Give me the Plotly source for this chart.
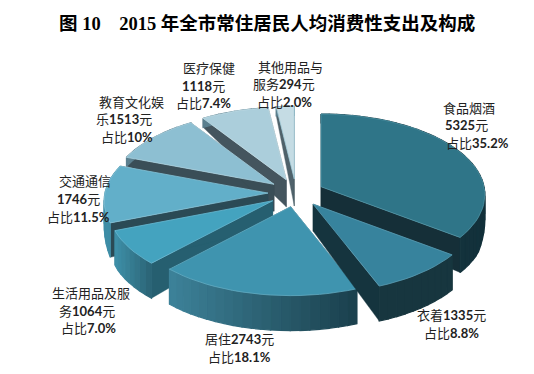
import math
import plotly.graph_objects as go

TITLE = "图 10　2015 年全市常住居民人均消费性支出及构成"
categories = ["食品烟酒", "衣着", "居住", "生活用品及服务", "交通通信", "教育文化娱乐", "医疗保健", "其他用品与服务"]
values = [5325, 1335, 2743, 1064, 1746, 1513, 1118, 294]
shares = ["35.2%", "8.8%", "18.1%", "7.0%", "11.5%", "10%", "7.4%", "2.0%"]

top_colors = ["#2F7588", "#37839D", "#3F94AF", "#44A3BF", "#62AFC9", "#8DBFD2", "#ABCEDB", "#C5DCE4"]
edge_colors = ["#4E93A5", "#5A9DB4", "#62ABC2", "#6AB8D0", "#85C2D6", "#A9D0DE", "#C2DDE6", "#9CC8D6"]
cut_colors = ["#152F38", "#15343E", "#1B4553", "#265F70", "#2B4A55", "#3A4E57", "#44555E", "#4F626B"]
side_left = ["#1A3C47", "#17363F", "#3D8299", "#3F90A9", "#3E8DA6", "#5B7F8E", "#5B7F8E", "#5B7F8E"]
side_right = ["#12303A", "#17363F", "#1A3F4C", "#2A6273", "#3E8DA6", "#5B7F8E", "#5B7F8E", "#5B7F8E"]
draw_order = [7, 6, 5, 4, 3, 2, 0, 1]

label_lines = [
    [("食品烟酒", 469, 108), (f"<b>{values[0]}</b>元", 466, 125), (f"占比<b>{shares[0]}</b>", 477, 143)],
    [(f"衣着<b>{values[1]}</b>元", 451, 315), (f"占比<b>{shares[1]}</b>", 451, 333)],
    [(f"居住<b>{values[2]}</b>元", 239, 339), (f"占比<b>{shares[2]}</b>", 239, 357)],
    [("生活用品及服", 91, 293), (f"务<b>{values[3]}</b>元", 87, 311), (f"占比<b>{shares[3]}</b>", 88, 328)],
    [("交通通信", 85, 181), (f"<b>{values[4]}</b>元", 78, 199), (f"占比<b>{shares[4]}</b>", 78, 217)],
    [("教育文化娱", 131, 102), (f"乐<b>{values[5]}</b>元", 124, 119), (f"占比<b>{shares[5]}</b>", 127, 137)],
    [("医疗保健", 209, 68), (f"<b>{values[6]}</b>元", 203, 86), (f"占比<b>{shares[6]}</b>", 203, 103)],
    [("其他用品与", 290, 67), (f"服务<b>{values[7]}</b>元", 284, 84), (f"占比<b>{shares[7]}</b>", 284, 102)],
]

CX, CY = 296, 193
A, B, K = 163, 80, 0.10
EXPLODE = 28
APEX_DEPTH = 27
STEP = math.radians(3)


def rim(t):
    X, Y = math.sin(t), math.cos(t)
    s = 1 / (1 + K * Y)
    return A * X * s, -B * Y * s, Y


def depth(Y):
    return max(9, min(35, 20 - 40 * Y))


def mix(c1, c2, f):
    a = [int(c1[i:i + 2], 16) for i in (1, 3, 5)]
    b = [int(c2[i:i + 2], 16) for i in (1, 3, 5)]
    return "#%02X%02X%02X" % tuple(round(p + (q - p) * f) for p, q in zip(a, b))


def poly(fig, pts, fill, line=None, width=1.2):
    xs = [p[0] for p in pts] + [pts[0][0]]
    ys = [p[1] for p in pts] + [pts[0][1]]
    fig.add_trace(go.Scatter(x=xs, y=ys, mode="lines", fill="toself", fillcolor=fill,
                             line=dict(color=line or fill, width=width),
                             hoverinfo="skip", showlegend=False))


total = sum(values)
slices = []
acc = 0
for v in values:
    start = 2 * math.pi * acc / total
    acc += v
    slices.append((start, 2 * math.pi * acc / total))

fig = go.Figure()
for i in draw_order:
    a0, a1 = slices[i]
    mid = (a0 + a1) / 2
    ax = CX + EXPLODE * math.sin(mid)
    ay = CY - EXPLODE * 0.5 * math.cos(mid)
    n = max(2, int((a1 - a0) / STEP))
    angles = [a0 + (a1 - a0) * j / n for j in range(n + 1)]
    top = []
    for t in angles:
        dx, dy, Y = rim(t)
        top.append((ax + dx, ay + dy, Y))
    apex_low = (ax, ay + APEX_DEPTH)
    for p in (top[0], top[-1]):
        poly(fig, [(ax, ay), (p[0], p[1]), (p[0], p[1] + depth(p[2])), apex_low], cut_colors[i], width=0.4)
    xmin = min(p[0] for p in top)
    xmax = max(p[0] for p in top)
    for j in range(n):
        p, q = top[j], top[j + 1]
        f = ((p[0] + q[0]) / 2 - xmin) / max(1, xmax - xmin)
        col = mix(side_left[i], side_right[i], f)
        poly(fig, [(p[0], p[1]), (q[0], q[1]), (q[0], q[1] + depth(q[2])), (p[0], p[1] + depth(p[2]))], col)
    poly(fig, [(ax, ay)] + [(p[0], p[1]) for p in top], top_colors[i], edge_colors[i], 0.8)

ann = [dict(x=267, y=23, text=f"<b>{TITLE}</b>", showarrow=False, xanchor="center", yanchor="middle",
            font=dict(family="Liberation Serif, Noto Sans CJK SC", size=18.5, color="#000000"))]
for lines in label_lines:
    for txt, x, y in lines:
        ann.append(dict(x=x, y=y, text=txt, showarrow=False, xanchor="center", yanchor="middle",
                        font=dict(family="Lato, Noto Sans CJK SC", size=13, color="#222222")))

# the page body has an 8px margin: the axes start at that offset
fig.update_layout(
    width=526, height=366, margin=dict(l=0, r=0, t=0, b=0),
    paper_bgcolor="white", plot_bgcolor="white", showlegend=False, annotations=ann,
    xaxis=dict(range=[8, 534], visible=False, fixedrange=True),
    yaxis=dict(range=[374, 8], visible=False, fixedrange=True),
)
fig.write_html("out.html", config=dict(displayModeBar=False))
